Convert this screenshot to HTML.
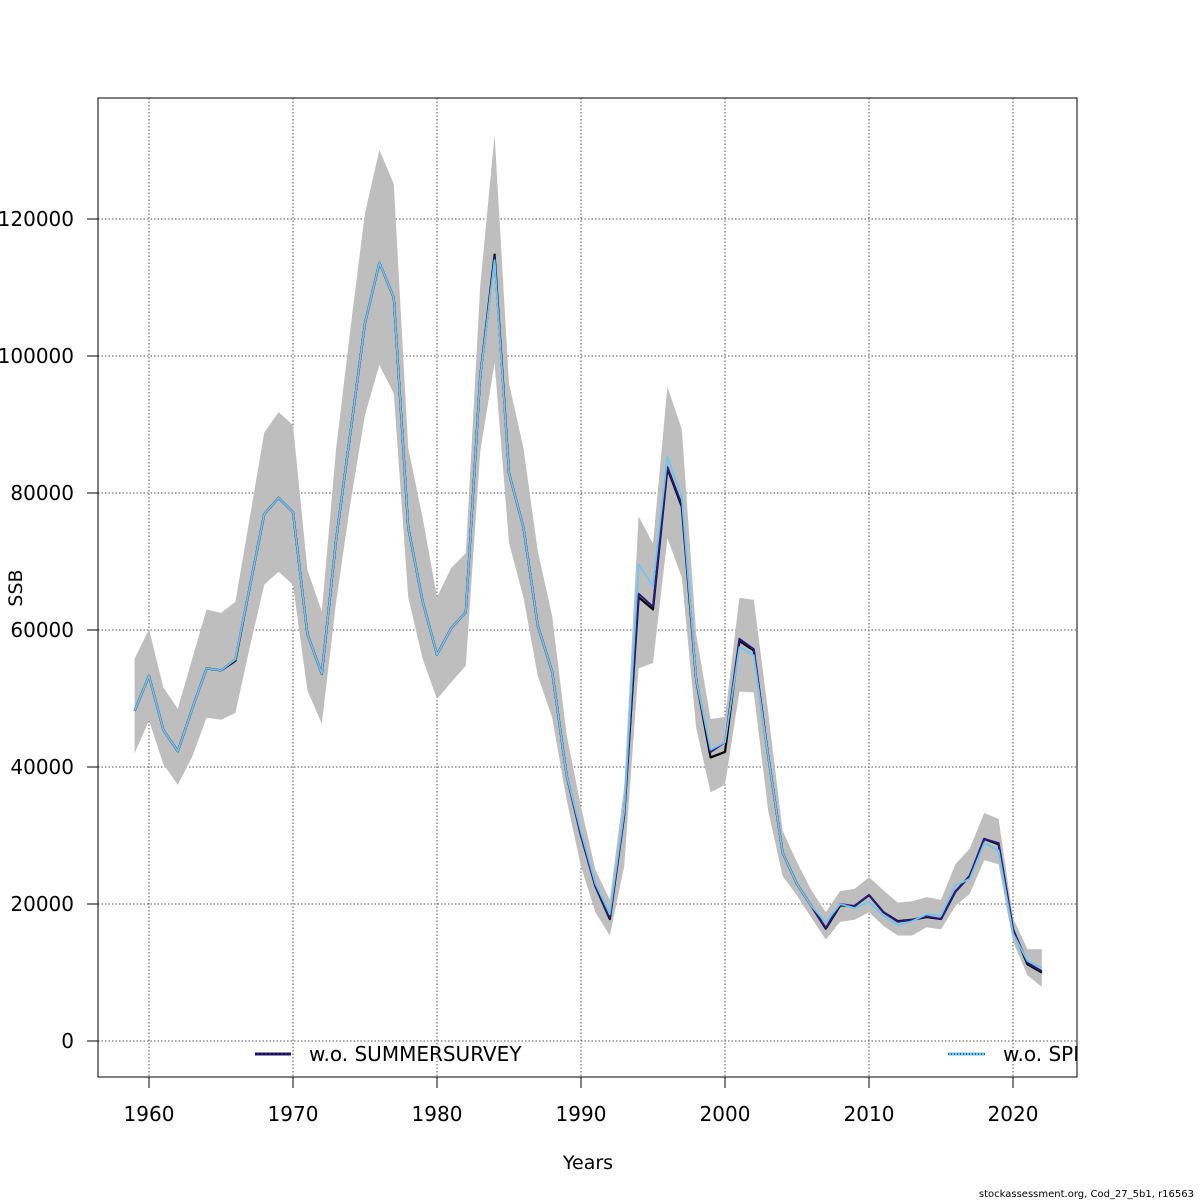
<!DOCTYPE html>
<html><head><meta charset="utf-8">
<style>
html,body{margin:0;padding:0;background:#fff;}
svg{display:block;font-family:"DejaVu Sans","Liberation Sans",sans-serif;}
</style></head>
<body>
<svg id="chart" width="1200" height="1200" viewBox="0 0 1200 1200" xmlns="http://www.w3.org/2000/svg">
<defs><clipPath id="plotclip"><rect x="98" y="98" width="979" height="979"/></clipPath></defs>
<g id="grid"></g>
<g id="band" clip-path="url(#plotclip)"></g>
<g id="lines" clip-path="url(#plotclip)"></g>
<g id="axes"></g>
<rect x="98" y="98" width="979" height="979" fill="none" stroke="#000" stroke-width="1"/>
<text x="22" y="588" font-size="19" text-anchor="middle" transform="rotate(-90 22 588)">SSB</text>
<text x="588" y="1169" font-size="19" text-anchor="middle">Years</text>
<text x="1194" y="1197" font-size="10" text-anchor="end">stockassessment.org, Cod_27_5b1, r16563</text>
<g id="legend" clip-path="url(#plotclip)"></g>
</svg>
<script>
const years = [];
for (let y = 1959; y <= 2022; y++) years.push(y);
const upper = [55800,60100,51600,48500,55800,63000,62500,64100,76400,88800,91800,89900,68800,62700,86600,104200,120900,130100,125100,86600,76400,64800,69100,71200,110200,132300,96000,86600,71500,62000,44700,34200,25000,20600,37100,76600,72600,95500,89300,59400,47000,47300,64700,64400,48000,30700,26100,22000,18800,21900,22200,23900,22000,20200,20400,21000,20600,25800,28100,33300,32400,18000,13400,13400];
const lower = [42000,46800,40400,37400,41500,47200,46900,47900,57500,66600,68500,66600,51200,46300,64200,78700,91400,98700,94500,64800,55800,49900,52400,54800,86000,99000,72700,64800,53300,47200,35200,25500,18800,15400,25500,54400,55200,73400,67700,45700,36300,37400,51000,50900,33600,24100,21200,18000,14800,17400,17700,18800,16800,15400,15400,16600,16300,19700,21500,26400,25800,14500,9600,7900];
const summer = [48200,53300,45400,42300,48500,54400,54100,55700,66300,76900,79300,77200,59400,53600,73300,89000,104800,113600,108500,75000,64200,56400,60300,62600,97000,114500,82900,75000,60600,53900,38800,30000,22600,18000,33000,65300,63400,83800,78300,52700,42200,43600,58700,57200,41600,27500,22900,19700,16500,20000,19700,21300,18800,17400,17700,18200,17800,21800,24100,29500,28900,16300,11400,10200];
const base = [48200,53300,45400,42300,48500,54400,54100,55500,66300,76900,79300,77200,59400,53600,73300,89000,104800,113600,108500,75000,64200,56400,60300,62600,97000,114800,82900,75000,60600,53900,38800,30000,22600,17800,33000,64800,63000,83600,78000,52700,41400,42200,58400,57000,41600,27500,22900,19700,16400,19800,19700,21300,18800,17500,17700,18100,17800,21800,24100,29500,28700,16300,11200,10000];
const spr = [48200,53300,45400,42300,48500,54400,54100,55700,66300,76900,79300,77200,59400,53600,73300,89000,104800,113600,108500,75000,64200,56400,60300,62600,97000,114000,82900,75000,60600,53900,38800,30500,23000,18500,33500,69600,66400,85300,79400,52700,42500,43600,57500,56300,41600,27500,22900,19700,17300,20000,19400,20300,18300,16900,17500,18500,18300,22700,23700,28900,27800,15700,11700,10700];
const yTicks = [0,20000,40000,60000,80000,100000,120000];
const xTicks = [1960,1970,1980,1990,2000,2010,2020];

const NS = "http://www.w3.org/2000/svg";
const xs = yr => 149 + (yr - 1960) * 14.4;
const ys = v => 1041 - v * 0.00685;
function mk(tag, attrs, parent){ const e = document.createElementNS(NS, tag); for (const k in attrs) e.setAttribute(k, attrs[k]); parent.appendChild(e); return e; }
const grid = document.getElementById('grid'), axes = document.getElementById('axes');

yTicks.forEach(v => {
  const gl = mk('line', {x1:98, x2:1077, y1:ys(v), y2:ys(v), stroke:'#555', 'stroke-width':1, 'stroke-dasharray':'1.5,2'}, grid);
  
  
  const tk = mk('line', {x1:87, x2:98, y1:ys(v), y2:ys(v), stroke:'#000'}, axes);
  
  
  const t = mk('text', {x:74, y:ys(v)+7, 'font-size':20, 'text-anchor':'end'}, axes);
  t.textContent = v;
  
  
});
xTicks.forEach(v => {
  const gl = mk('line', {x1:xs(v), x2:xs(v), y1:98, y2:1077, stroke:'#555', 'stroke-width':1, 'stroke-dasharray':'1.5,2'}, grid);
  
  
  const tk = mk('line', {x1:xs(v), x2:xs(v), y1:1077, y2:1088, stroke:'#000'}, axes);
  
  
  const t = mk('text', {x:xs(v), y:1121, 'font-size':20, 'text-anchor':'middle'}, axes);
  t.textContent = v;
  
  
});

let bp = years.map((y,i)=>`${xs(y)},${ys(upper[i])}`).concat(years.slice().reverse().map((y,j)=>{const i=years.length-1-j;return `${xs(y)},${ys(lower[i])}`;}));
const poly = mk('polygon', {points:bp.join(' '), fill:'#bebebe', stroke:'none'}, document.getElementById('band'));



const lines = document.getElementById('lines');
function series(arr, color, w, name, dash){
  const a = {points: years.map((y,i)=>`${xs(y)},${ys(arr[i])}`).join(' '), fill:'none', stroke:color, 'stroke-width':w, 'stroke-linejoin':'round'};
  if (dash) a['stroke-dasharray'] = dash;
  const p = mk('polyline', a, lines);
  
  
}
series(base, '#000', 2.2, 'base-ssb-line');
series(summer, '#2a1a7a', 2, 'wo-summersurvey-line');
series(spr, '#6ec6f0', 1.8, 'wo-spr-line');

const leg = document.getElementById('legend');
const l1 = mk('line', {x1:255, x2:291, y1:1054, y2:1054, stroke:'#2a1a7a', 'stroke-width':3}, leg);


const l1b = mk('line', {x1:255, x2:291, y1:1054, y2:1054, stroke:'#000', 'stroke-width':1, 'stroke-dasharray':'2,2'}, leg);


const t1 = mk('text', {x:309, y:1061, 'font-size':20}, leg);
t1.textContent = 'w.o. SUMMERSURVEY';


const l2 = mk('line', {x1:948, x2:985, y1:1054, y2:1054, stroke:'#6ec6f0', 'stroke-width':3}, leg);


const l2b = mk('line', {x1:948, x2:985, y1:1054, y2:1054, stroke:'#000', 'stroke-width':1, 'stroke-dasharray':'1,2'}, leg);


const t2 = mk('text', {x:1003, y:1061, 'font-size':20}, leg);
t2.textContent = 'w.o. SPRINGSURVEY';


</script>
</body></html>
